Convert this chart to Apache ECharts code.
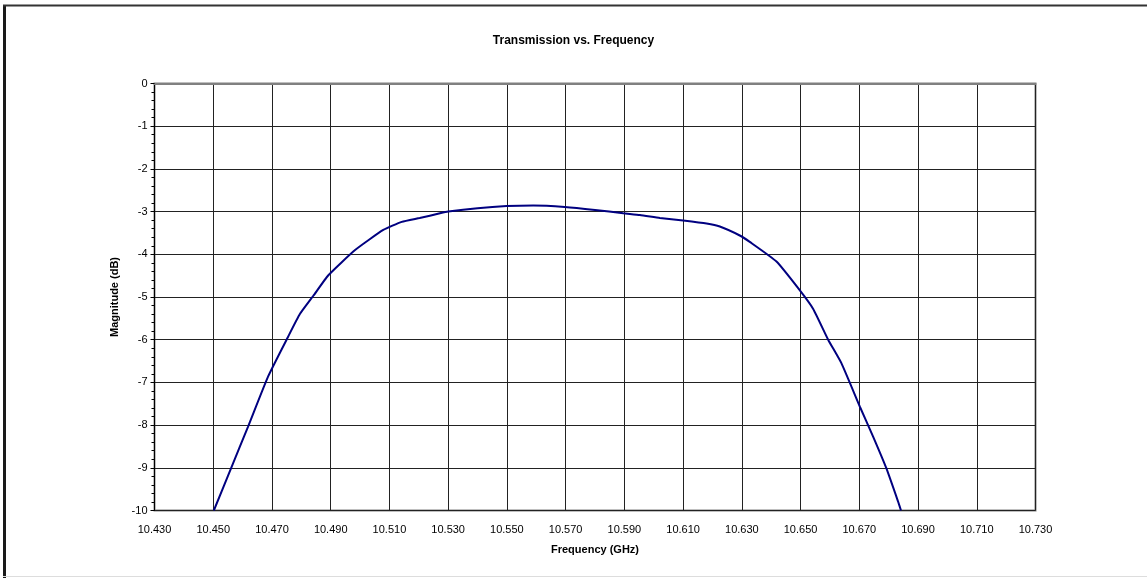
<!DOCTYPE html>
<html><head><meta charset="utf-8">
<script src="https://cdn.jsdelivr.net/npm/echarts@6/dist/echarts.min.js"></script>
<style>html,body{margin:0;padding:0;background:#fff}#c{width:1147px;height:578px}</style>
</head><body><div id="c"></div>
<script>
const titleText = 'Transmission vs. Frequency';
const xName = 'Frequency (GHz)';
const yName = 'Magnitude (dB)';
const freq = [10.4502,10.4563,10.4619,10.4687,10.4755,10.4795,10.4841,10.4892,10.4983,10.5079,10.5142,10.5203,10.5272,10.5300,10.5400,10.5499,10.5590,10.5697,10.5800,10.5896,10.5953,10.6021,10.6100,10.6180,10.6225,10.6293,10.6327,10.6418,10.6497,10.6543,10.6594,10.6639,10.6702,10.6747,10.6792,10.6832,10.6842];
const mag  = [-10.0,-8.97,-8.03,-6.86,-5.93,-5.40,-4.97,-4.49,-3.90,-3.43,-3.24,-3.15,-3.04,-3.00,-2.92,-2.87,-2.855,-2.89,-2.96,-3.04,-3.08,-3.15,-3.21,-3.28,-3.35,-3.56,-3.71,-4.17,-4.84,-5.28,-6.00,-6.55,-7.57,-8.27,-9.01,-9.79,-10.0];
const xMin = 10.43, xMax = 10.73, xStep = 0.02;
const yMin = -10, yMax = 0, yStep = 1;

const chart = echarts.init(document.getElementById('c'), null, {renderer:'canvas'});
const font = 'Liberation Sans, Arial, sans-serif';
chart.setOption({
  backgroundColor:'#fff',
  animation:false,
  graphic:[
    {type:'line', shape:{x1:4.5,y1:5,x2:4.5,y2:578}, style:{stroke:'#1a1a1a', lineWidth:3}},
    {type:'line', shape:{x1:3,y1:5.5,x2:1147,y2:5.5}, style:{stroke:'#333', lineWidth:2}},
    {type:'line', shape:{x1:3,y1:576.5,x2:1147,y2:576.5}, style:{stroke:'#ddd', lineWidth:1}}
  ],
  title:{text:titleText, left:'center', top:30, textStyle:{fontFamily:font, fontSize:12, fontWeight:'bold', color:'#000'}},
  grid:{left:154.5, top:83.5, width:881, height:427, show:true, borderColor:'#808080', borderWidth:2, backgroundColor:'transparent'},
  xAxis:{type:'value', min:xMin, max:xMax, interval:xStep,
    name:xName, nameLocation:'middle', nameGap:34,
    nameTextStyle:{fontFamily:font, fontSize:11, fontWeight:'bold', color:'#000'},
    axisLine:{show:true, lineStyle:{color:'#808080', width:2}},
    axisTick:{show:false},
    axisLabel:{fontFamily:font, fontSize:11, color:'#000', margin:14, formatter:v=>v.toFixed(3), showMaxLabel:true, showMinLabel:true},
    splitLine:{show:true, lineStyle:{color:'#222', width:1}}},
  yAxis:{type:'value', min:yMin, max:yMax, interval:yStep,
    name:yName, nameLocation:'middle', nameGap:32,
    nameTextStyle:{fontFamily:font, fontSize:11, fontWeight:'bold', color:'#000'},
    axisLine:{show:true, lineStyle:{color:'#000', width:1}},
    axisTick:{show:true, length:4, lineStyle:{color:'#000'}},
    minorTick:{show:true, splitNumber:5, length:3, lineStyle:{color:'#000'}},
    axisLabel:{fontFamily:font, fontSize:11, color:'#000', margin:7},
    splitLine:{show:true, lineStyle:{color:'#222', width:1}}},
  series:[{type:'line', data:freq.map((f,i)=>[f,mag[i]]), smooth:0.15, showSymbol:false,
    lineStyle:{color:'#000080', width:2}, clip:true}]
});
</script></body></html>
